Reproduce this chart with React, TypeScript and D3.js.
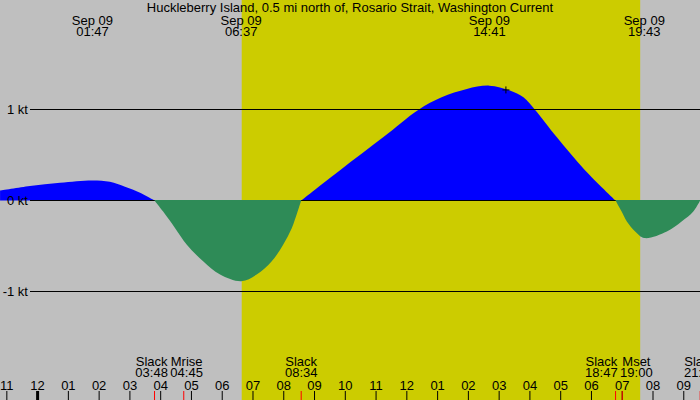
import * as d3 from 'd3'
import React from 'react'

const title = 'Huckleberry Island, 0.5 mi north of, Rosario Strait, Washington Current'
const dayLabel = 'Sep 09'

// hours since midnight Sep 09 and current speed in knots (flood +, ebb -)
const curveHours = [
  -1.22, -0.25, 0.73, 1.78, 2.35, 2.84, 3.33, 3.8,
  4.08, 4.47, 4.85, 5.38, 5.93, 6.62, 7.12, 7.61, 7.98, 8.26, 8.45, 8.567,
  9.83, 11.24, 12.37, 13.13, 13.95, 14.68, 15.35, 15.79, 16.17, 16.87, 17.79, 18.783,
  18.98, 19.15, 19.42, 19.72, 20.45, 20.93, 21.31, 21.533,
]
const curveKnots = [
  0.107, 0.158, 0.195, 0.221, 0.205, 0.151, 0.085, 0,
  -0.122, -0.304, -0.486, -0.668, -0.814, -0.888, -0.814, -0.668, -0.486, -0.304, -0.122, 0,
  0.333, 0.697, 0.995, 1.134, 1.226, 1.262, 1.208, 1.134, 0.995, 0.697, 0.333, 0,
  -0.122, -0.232, -0.341, -0.413, -0.341, -0.232, -0.122, 0,
]

const extremaTimes = ['01:47', '06:37', '14:41', '19:43']
const eventNames = ['Slack', 'Mrise', 'Slack', 'Slack', 'Mset', 'Slack']
const eventTimes = ['03:48', '04:45', '08:34', '18:47', '19:00', '21:32']
const sunrise = '06:38'
const sunset = '19:35'
const nowMark = [15.22, 1.215]
const levels = [1, 0, -1]
const hourTicks = d3.range(-1, 22)

const W = 700
const H = 400
const font = '"Liberation Sans", Arial, sans-serif'

const hm = (s: string) => {
  const [h, m] = s.split(':').map(Number)
  return h + m / 60
}

const hourLabel = (h: number) => {
  const v = ((h + 24) % 12) || 12
  return String(v).padStart(2, '0')
}

// push apart labels that would overlap
function spread(xs: number[], gap: number) {
  const out = xs.slice()
  for (let i = 1; i < out.length; i++) {
    if (out[i] - out[i - 1] < gap) {
      const mid = (out[i] + out[i - 1]) / 2
      out[i - 1] = mid - gap / 2
      out[i] = mid + gap / 2
    }
  }
  return out
}

type Pt = [number, number]

// split the curve at each slack so flood and ebb are filled separately
function segments(pts: Pt[]) {
  const segs: Pt[][] = []
  let cur: Pt[] = []
  pts.forEach((p) => {
    cur.push(p)
    if (p[1] === 0 && cur.length > 1) {
      segs.push(cur)
      cur = [p]
    }
  })
  if (cur.length > 1) segs.push(cur)
  return segs
}

export default function App() {
  const x = d3.scaleLinear().domain([0, 21]).range([37.6, 37.6 + 21 * 30.77])
  const y = d3.scaleLinear().domain([-1, 1]).range([291.5, 109.5])

  const pts = curveHours.map((t, i) => [t, curveKnots[i]] as Pt)
  const segs = segments(pts)
  const isFlood = (s: Pt[]) => d3.sum(s, (d) => d[1]) > 0

  const area = (base: number) =>
    d3
      .area<Pt>()
      .x((d) => x(d[0]))
      .y0(base)
      .y1((d) => y(d[1]))
      .curve(d3.curveCatmullRom.alpha(0.5))

  const evX = eventTimes.map((t) => x(hm(t)))
  const labelX = spread(evX, 35)

  const mx = x(nowMark[0])
  const my = y(nowMark[1])

  return (
    <svg
      width={W}
      height={H}
      style={{ position: 'fixed', left: 0, top: 0, display: 'block' }}
      fontFamily={font}
      fontSize={13}
    >
      <rect width={W} height={H} fill="#bfbfbf" />
      <rect x={x(hm(sunrise))} width={x(hm(sunset)) - x(hm(sunrise))} y={0} height={H} fill="#cccc00" />

      {segs.filter(isFlood).map((s, i) => (
        <path key={'f' + i} d={area(y(0))(s) ?? ''} fill="#0000ff" />
      ))}

      {levels.map((l) => (
        <g key={l}>
          <line x1={30} x2={W} y1={y(l)} y2={y(l)} stroke="#000" strokeWidth={1} />
          <text x={28} y={y(l)} dy="0.35em" textAnchor="end">{`${l} kt`}</text>
        </g>
      ))}

      {segs.filter((s) => !isFlood(s)).map((s, i) => (
        <path key={'e' + i} d={area(y(0) - 0.5)(s) ?? ''} fill="#2e8b57" />
      ))}

      <path d={`M${mx - 3.5},${my}H${mx + 3.5}M${mx},${my - 3.5}V${my + 3.5}`} stroke="#000" strokeWidth={1} />

      <text x={W / 2} y={12} textAnchor="middle">{title}</text>

      {extremaTimes.map((t) => (
        <g key={t} textAnchor="middle">
          <text x={x(hm(t))} y={24.5}>{dayLabel}</text>
          <text x={x(hm(t))} y={35.5}>{t}</text>
        </g>
      ))}

      {hourTicks.map((h) => (
        <g key={h}>
          <line x1={x(h)} x2={x(h)} y1={391} y2={H} stroke="#000" strokeWidth={h === 0 ? 3 : 1} />
          <text x={x(h)} y={389.5} textAnchor="middle">{hourLabel(h)}</text>
        </g>
      ))}

      {eventTimes.map((t, i) => (
        <g key={t}>
          <line x1={evX[i]} x2={evX[i]} y1={391} y2={H} stroke="#ff0000" strokeWidth={1} />
          <text x={labelX[i]} y={366} textAnchor="middle">{eventNames[i]}</text>
          <text x={labelX[i]} y={377} textAnchor="middle">{t}</text>
        </g>
      ))}
    </svg>
  )
}
